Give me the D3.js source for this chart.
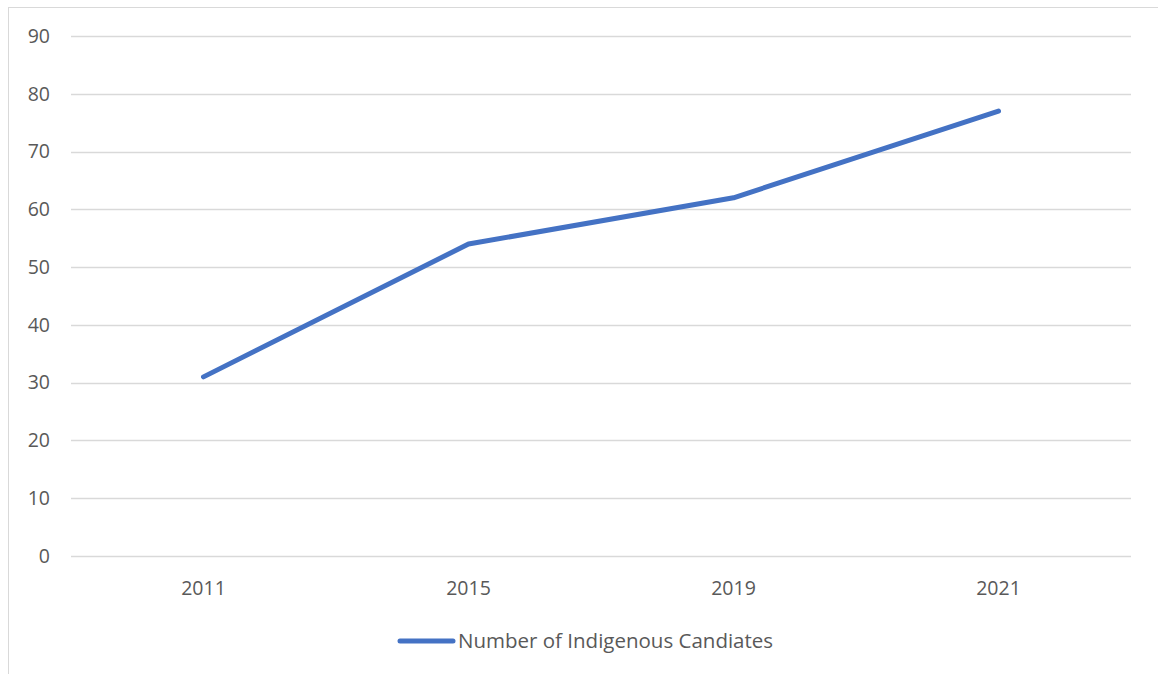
<!DOCTYPE html>
<html>
<head>
<meta charset="utf-8">
<script src="https://cdn.jsdelivr.net/npm/d3@7"></script>
<style>
  html, body { margin: 0; padding: 0; background: #fff; }
  svg { display: block; }
  text { font-family: "Open Sans", "Noto Sans", sans-serif; fill: #595959; }
</style>
</head>
<body>
<svg id="chart" width="1158" height="674"></svg>
<script>
// Indigenous candidates by election year
const years = ["2011", "2015", "2019", "2021"];
const candidates = [31, 54, 62, 77];
const yTicks = [0, 10, 20, 30, 40, 50, 60, 70, 80, 90];
const seriesName = "Number of Indigenous Candiates";

const svg = d3.select("#chart");
const W = 1158, H = 674;
const FONT = '"Open Sans", "Noto Sans", sans-serif';

// chart frame (extends past the right and bottom edges)
svg.append("rect")
  .attr("x", 8.5).attr("y", 7.5)
  .attr("width", W + 20).attr("height", H + 20)
  .attr("fill", "#fff")
  .attr("stroke", "#d9d9d9").attr("stroke-width", 1);

const plot = { left: 71, right: 1131, top: 36, bottom: 556 };

const x = d3.scaleBand().domain(years).range([plot.left, plot.right]);
const y = d3.scaleLinear().domain([0, 90]).range([plot.bottom, plot.top]);

// horizontal gridlines
svg.append("g")
  .selectAll("line")
  .data(yTicks)
  .join("line")
  .attr("x1", plot.left).attr("x2", plot.right)
  .attr("y1", d => Math.round(y(d)) + 0.5).attr("y2", d => Math.round(y(d)) + 0.5)
  .attr("stroke", "#d9d9d9").attr("stroke-width", 1.5);

// y axis labels
const yAxis = d3.axisLeft(y).tickValues(yTicks).tickSize(0).tickPadding(0);
svg.append("g")
  .attr("transform", `translate(${plot.left - 21},0)`)
  .call(yAxis)
  .call(g => g.select(".domain").remove())
  .attr("font-size", null)
  .attr("font-family", null)
  .selectAll("text")
  .style("font-family", FONT)
  .style("font-size", "19.5px")
  .attr("fill", "#595959");

// x axis labels
const xAxis = d3.axisBottom(x).tickSize(0).tickPadding(0);
svg.append("g")
  .attr("transform", `translate(0,${plot.bottom + 25})`)
  .call(xAxis)
  .call(g => g.select(".domain").remove())
  .attr("font-size", null)
  .attr("font-family", null)
  .selectAll("text")
  .style("font-family", FONT)
  .style("font-size", "19.5px")
  .attr("fill", "#595959");

// series line
const line = d3.line()
  .x((d, i) => x(years[i]) + x.bandwidth() / 2)
  .y(d => y(d));

svg.append("path")
  .datum(candidates)
  .attr("d", line)
  .attr("fill", "none")
  .attr("stroke", "#4472c4")
  .attr("stroke-width", 5)
  .attr("stroke-linecap", "round")
  .attr("stroke-linejoin", "round");

// legend
const legend = svg.append("g").attr("transform", "translate(400,641)");
legend.append("line")
  .attr("x1", 0).attr("x2", 53)
  .attr("y1", 0).attr("y2", 0)
  .attr("stroke", "#4472c4")
  .attr("stroke-width", 5)
  .attr("stroke-linecap", "round");
legend.append("text")
  .attr("x", 58).attr("y", 0)
  .attr("dy", "0.35em")
  .style("font-family", FONT)
  .style("font-size", "20.5px")
  .text(seriesName);
</script>
</body>
</html>
